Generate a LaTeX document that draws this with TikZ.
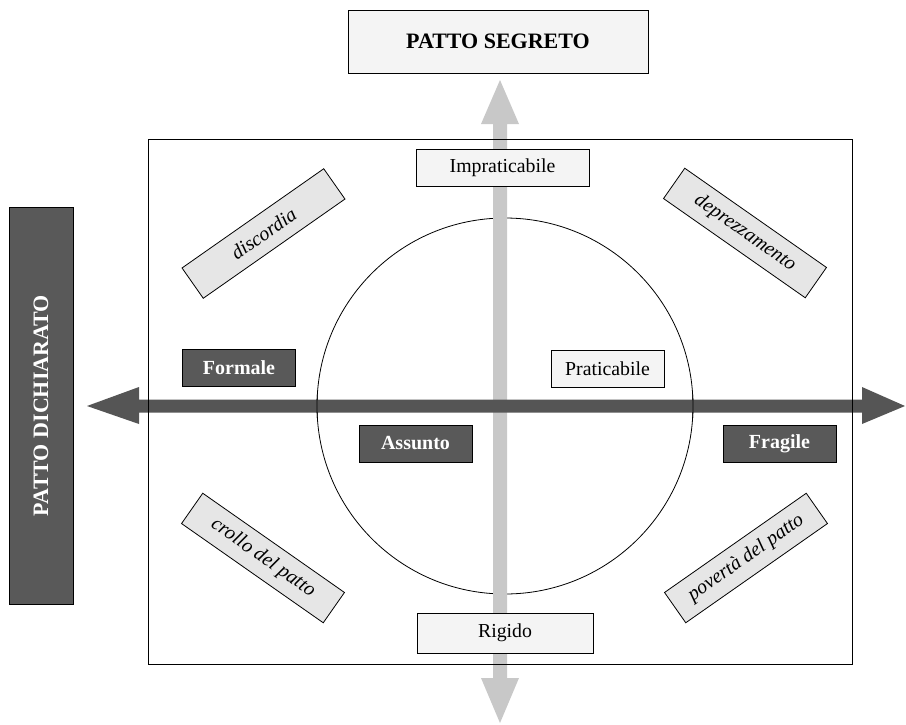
\documentclass[tikz,border=0pt]{standalone}
\usepackage{fontspec}
\setmainfont{Liberation Serif}
\definecolor{lightbox}{HTML}{F4F4F4}
\definecolor{rotbox}{HTML}{E6E6E6}
\definecolor{darkbox}{HTML}{595959}
\definecolor{harrow}{HTML}{555555}
\definecolor{varrow}{HTML}{C8C8C8}
\tikzset{
  base/.style={draw=black, line width=0.8pt, inner sep=0pt, align=center},
  lightb/.style={base, fill=lightbox, font=\fontsize{19.8}{22}\selectfont},
  darkb/.style={base, fill=darkbox, text=white, font=\fontsize{20}{22}\selectfont\bfseries, minimum width=113pt, minimum height=37pt},
  rotb/.style={base, fill=rotbox, font=\fontsize{20}{22}\selectfont\itshape, minimum width=173pt, minimum height=37pt},
  titleb/.style={base, font=\fontsize{22}{24}\selectfont\bfseries},
}
\begin{document}
\begin{tikzpicture}[x=1pt,y=-1pt]
\useasboundingbox (0,0) rectangle (906,724);
% circle
\node[draw=black, line width=0.8pt, circle, minimum size=376pt, inner sep=0pt] (circ) at (505,406) {};
% vertical double arrow
\fill[varrow] (500,80) -- (519,124) -- (507,124) -- (507,678) -- (519,678) -- (500,723)
  -- (481,678) -- (493,678) -- (493,124) -- (481,124) -- cycle;
% horizontal double arrow
\fill[harrow] (87,406) -- (139,387) -- (139,399.5) -- (862,399.5) -- (862,387) -- (905,406)
  -- (862,424) -- (862,412.5) -- (139,412.5) -- (139,424) -- cycle;
% circle outline again over the horizontal bar
\begin{scope}
  \clip (300,395) rectangle (710,418);
  \draw[line width=0.8pt] (circ.center) circle[radius=188pt];
\end{scope}
% frame
\node[draw=black, line width=0.8pt, minimum width=704pt, minimum height=525pt, inner sep=0pt] (frame) at (500,401.5) {};
% titles
\node[titleb, fill=lightbox, minimum width=300pt, minimum height=63pt] (segreto) at (498,41.5) {PATTO SEGRETO};
\node[titleb, fill=darkbox, text=white, minimum width=64pt, minimum height=397pt] (dichiarato) at (41,405.5) {};
\node[font=\fontsize{22}{24}\selectfont\bfseries, text=white, rotate=90] (dichtext) at (dichiarato.center) {PATTO DICHIARATO};
% light boxes
\node[lightb, minimum width=173pt, minimum height=37pt] (impr) at (502.5,167.5) {Impraticabile};
\node[lightb, minimum width=176pt, minimum height=40pt] (rig) at (505,633) {Rigido};
\node[lightb, minimum width=113pt, minimum height=37pt] (prat) at (607.5,368.5) {Praticabile};
% dark boxes
\node[darkb] (form) at (239,367.5) {Formale};
\node[darkb] (ass) at (415.5,443.5) {Assunto};
\node[darkb] (frag) at (779.5,443.5) {Fragile};
% rotated boxes
\node[rotb, rotate=35] (disc) at (263.5,233.5) {discordia};
\node[rotb, rotate=-35] (depr) at (745,233) {deprezzamento};
\node[rotb, rotate=-35] (croll) at (263,558) {crollo del patto};
\node[rotb, rotate=35] (pov) at (746,558) {povertà del patto};
\end{tikzpicture}
\end{document}
